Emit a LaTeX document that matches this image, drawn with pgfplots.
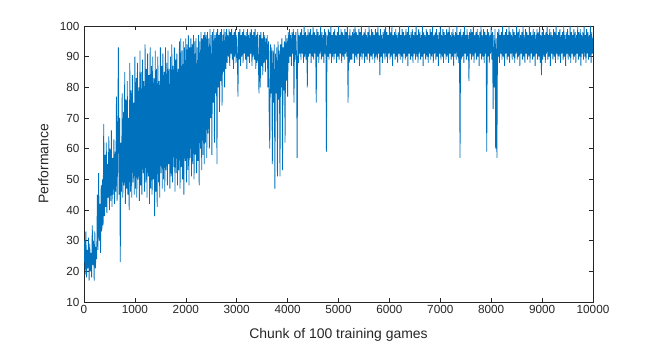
\documentclass[border=0pt]{standalone}
\usepackage{fontspec}
\setmainfont{Liberation Sans}
\usepackage{pgfplots}
\pgfplotsset{compat=1.18}
\definecolor{mblue}{RGB}{0,114,189}
\definecolor{axgray}{RGB}{38,38,38}
\begin{document}
\begin{tikzpicture}
\path[use as bounding box] (0,0) rectangle (654bp,345bp);
\begin{axis}[
  at={(84bp,43bp)}, anchor=south west,
  width=509bp, height=276bp, scale only axis,
  xmin=0, xmax=10000, ymin=10, ymax=100,
  xtick={0,1000,...,10000}, ytick={10,20,...,100},
  tick align=inside, major tick length=4.5bp,
  axis line style={axgray, line width=0.6bp},
  every tick/.style={axgray, line width=0.6bp},
  tick label style={font=\fontsize{11.8}{12}\selectfont, text=axgray},
  yticklabel style={xshift=-1bp},
  /pgf/number format/assume math mode=true,
  /pgf/number format/1000 sep={},
  scaled x ticks=false,
  xlabel={Chunk of 100 training games},
  ylabel={Performance},
  label style={font=\fontsize{14}{15}\selectfont, text=axgray},
  xlabel style={at={(axis description cs:0.5,-0.12)}, anchor=center},
  ylabel style={at={(axis description cs:-0.08,0.5)}, anchor=center},
  clip=true,
]
\addplot[mblue, line width=0.8bp, line join=bevel] coordinates {
(0,23)(12.5,30)(25,19)(37.5,33)(50,18)(62.5,27)(75,21)(87.5,31)(100,17)(112.5,29)
(125,20)(137.5,26)(150,18)(162.5,35)(175,22)(187.5,30)(200,17)(212.5,33)(225,21)(237.5,28)
(250,24)(262.5,45)(275,27)(287.5,52)(300,30)(312.5,42)(325,26)(337.5,48)(350,33)(362.5,50)
(375,35)(387.5,68)(400,38)(412.5,58)(425,41)(437.5,62)(450,39)(462.5,55)(475,44)(487.5,64)
(500,40)(512.5,60)(525,43)(537.5,66)(550,41)(562.5,57)(575,45)(587.5,63)(600,42)(612.5,59)
(625,46)(637.5,77)(650,43)(662.5,62)(675,93)(687.5,45)(700,70)(712.5,23)(725,62)(737.5,46)
(750,78)(762.5,44)(775,72)(787.5,48)(800,85)(812.5,42)(825,76)(837.5,47)(850,82)(862.5,45)
(875,70)(887.5,40)(900,88)(912.5,46)(925,79)(937.5,44)(950,84)(962.5,49)(975,75)(987.5,45)
(1000,90)(1012.5,47)(1025,83)(1037.5,44)(1050,88)(1062.5,50)(1075,80)(1087.5,43)(1100,92)(1112.5,48)
(1125,85)(1137.5,45)(1150,89)(1162.5,52)(1175,82)(1187.5,46)(1200,94)(1212.5,49)(1225,86)(1237.5,44)
(1250,91)(1262.5,51)(1275,84)(1287.5,42)(1300,93)(1312.5,47)(1325,87)(1337.5,45)(1350,90)(1362.5,50)
(1375,83)(1387.5,38)(1400,92)(1412.5,46)(1425,86)(1437.5,41)(1450,90)(1462.5,49)(1475,82)(1487.5,44)
(1500,93)(1512.5,52)(1525,87)(1537.5,47)(1550,91)(1562.5,50)(1575,85)(1587.5,46)(1600,93)(1612.5,53)
(1625,88)(1637.5,48)(1650,92)(1662.5,55)(1675,86)(1687.5,47)(1700,90)(1712.5,51)(1725,94)(1737.5,49)
(1750,87)(1762.5,54)(1775,93)(1787.5,46)(1800,89)(1812.5,52)(1825,91)(1837.5,48)(1850,86)(1862.5,53)
(1875,95)(1887.5,47)(1900,96)(1912.5,54)(1925,92)(1937.5,50)(1950,95)(1962.5,45)(1975,93)(1987.5,56)
(2000,96)(2012.5,49)(2025,94)(2037.5,53)(2050,97)(2062.5,48)(2075,93)(2087.5,57)(2100,96)(2112.5,51)
(2125,94)(2137.5,55)(2150,97)(2162.5,50)(2175,95)(2187.5,58)(2200,96)(2212.5,52)(2225,93)(2237.5,56)
(2250,97)(2262.5,48)(2275,95)(2287.5,60)(2300,98)(2312.5,53)(2325,96)(2337.5,58)(2350,97)(2362.5,55)
(2375,98)(2387.5,62)(2400,97)(2412.5,57)(2425,98)(2437.5,65)(2450,96)(2462.5,60)(2475,99)(2487.5,70)
(2500,97)(2512.5,58)(2525,98)(2537.5,75)(2550,99)(2562.5,62)(2575,97)(2587.5,78)(2600,98)(2612.5,55)
(2625,99)(2637.5,80)(2650,97)(2662.5,72)(2675,98)(2687.5,82)(2700,99)(2712.5,74)(2725,97)(2737.5,85)
(2750,99)(2762.5,80)(2775,98)(2787.5,86)(2800,99)(2812.5,88)(2825,97)(2837.5,90)(2850,99)(2862.5,87)
(2875,98)(2887.5,91)(2900,99)(2912.5,89)(2925,97)(2937.5,86)(2950,98)(2962.5,90)(2975,99)(2987.5,88)
(3000,97)(3012.5,91)(3025,77)(3037.5,98)(3050,89)(3062.5,99)(3075,87)(3087.5,97)(3100,90)(3112.5,98)
(3125,88)(3137.5,99)(3150,91)(3162.5,97)(3175,89)(3187.5,98)(3200,86)(3212.5,99)(3225,90)(3237.5,97)
(3250,88)(3262.5,98)(3275,91)(3287.5,99)(3300,87)(3312.5,97)(3325,90)(3337.5,98)(3350,89)(3362.5,99)
(3375,86)(3387.5,97)(3400,88)(3412.5,98)(3425,90)(3437.5,78)(3450,97)(3462.5,80)(3475,98)(3487.5,87)
(3500,96)(3512.5,84)(3525,98)(3537.5,88)(3550,97)(3562.5,85)(3575,96)(3587.5,89)(3600,97)(3612.5,80)
(3625,95)(3637.5,72)(3650,60)(3662.5,94)(3675,78)(3687.5,93)(3700,55)(3712.5,92)(3725,75)(3737.5,94)
(3750,47)(3762.5,91)(3775,78)(3787.5,93)(3800,51)(3812.5,95)(3825,76)(3837.5,92)(3850,51)(3862.5,94)
(3875,80)(3887.5,96)(3900,53)(3912.5,93)(3925,79)(3937.5,95)(3950,62)(3962.5,97)(3975,82)(3987.5,96)
(4000,77)(4012.5,98)(4025,88)(4037.5,99)(4050,90)(4062.5,97)(4075,87)(4087.5,98)(4100,91)(4112.5,99)
(4125,75)(4137.5,97)(4150,89)(4162.5,98)(4175,90)(4187.5,57)(4200,99)(4212.5,88)(4225,97)(4237.5,91)
(4250,98)(4262.5,89)(4275,99)(4287.5,91)(4300,97)(4312.5,88)(4325,100)(4337.5,90)
(4350,98)(4362.5,89)(4375,97)(4387.5,80)(4400,99)(4412.5,90)(4425,98)(4437.5,91)
(4450,99)(4462.5,88)(4475,97)(4487.5,90)(4500,100)(4512.5,89)(4525,98)(4537.5,91)
(4550,97)(4562.5,75)(4575,99)(4587.5,90)(4600,98)(4612.5,88)(4625,97)(4637.5,91)
(4650,100)(4662.5,89)(4675,98)(4687.5,90)(4700,97)(4712.5,88)(4725,99)(4737.5,91)
(4750,98)(4762.5,59)(4775,97)(4787.5,90)(4800,99)(4812.5,89)(4825,98)(4837.5,91)
(4850,100)(4862.5,88)(4875,97)(4887.5,90)(4900,98)(4912.5,89)(4925,99)(4937.5,91)
(4950,97)(4962.5,88)(4975,98)(4987.5,90)(5000,100)(5012.5,89)(5025,97)(5037.5,91)
(5050,99)(5062.5,88)(5075,98)(5087.5,90)(5100,97)(5112.5,89)(5125,99)(5137.5,91)
(5150,98)(5162.5,90)(5175,100)(5187.5,75)(5200,97)(5212.5,88)(5225,99)(5237.5,89)
(5250,97)(5262.5,89)(5275,98)(5287.5,91)(5300,99)(5312.5,88)(5325,100)(5337.5,90)
(5350,98)(5362.5,89)(5375,97)(5387.5,91)(5400,99)(5412.5,87)(5425,98)(5437.5,90)
(5450,100)(5462.5,89)(5475,97)(5487.5,91)(5500,98)(5512.5,88)(5525,99)(5537.5,90)
(5550,97)(5562.5,89)(5575,98)(5587.5,91)(5600,100)(5612.5,88)(5625,97)(5637.5,90)
(5650,99)(5662.5,89)(5675,98)(5687.5,91)(5700,97)(5712.5,88)(5725,99)(5737.5,90)
(5750,98)(5762.5,89)(5775,100)(5787.5,91)(5800,97)(5812.5,84)(5825,99)(5837.5,90)
(5850,97)(5862.5,88)(5875,98)(5887.5,91)(5900,99)(5912.5,89)(5925,100)(5937.5,90)
(5950,98)(5962.5,88)(5975,97)(5987.5,91)(6000,99)(6012.5,89)(6025,98)(6037.5,90)
(6050,100)(6062.5,87)(6075,97)(6087.5,91)(6100,98)(6112.5,89)(6125,99)(6137.5,90)
(6150,97)(6162.5,88)(6175,98)(6187.5,91)(6200,100)(6212.5,89)(6225,97)(6237.5,90)
(6250,99)(6262.5,88)(6275,98)(6287.5,91)(6300,97)(6312.5,89)(6325,99)(6337.5,90)
(6350,98)(6362.5,87)(6375,100)(6387.5,91)(6400,97)(6412.5,89)(6425,98)(6437.5,90)
(6450,99)(6462.5,88)(6475,97)(6487.5,91)(6500,98)(6512.5,89)(6525,100)(6537.5,90)
(6550,97)(6562.5,88)(6575,99)(6587.5,91)(6600,98)(6612.5,89)(6625,97)(6637.5,90)
(6650,100)(6662.5,87)(6675,98)(6687.5,91)(6700,97)(6712.5,89)(6725,99)(6737.5,90)
(6750,98)(6762.5,88)(6775,97)(6787.5,91)(6800,99)(6812.5,89)(6825,98)(6837.5,90)
(6850,100)(6862.5,88)(6875,97)(6887.5,91)(6900,98)(6912.5,89)(6925,99)(6937.5,90)
(6950,97)(6962.5,87)(6975,98)(6987.5,91)(7000,100)(7012.5,89)(7025,97)(7037.5,90)
(7050,99)(7062.5,88)(7075,98)(7087.5,91)(7100,97)(7112.5,89)(7125,99)(7137.5,90)
(7150,98)(7162.5,88)(7175,100)(7187.5,91)(7200,97)(7212.5,89)(7225,98)(7237.5,90)
(7250,99)(7262.5,87)(7275,97)(7287.5,91)(7300,98)(7312.5,89)(7325,100)(7337.5,90)
(7350,97)(7362.5,88)(7375,98)(7387.5,57)(7400,99)(7412.5,89)(7425,97)(7437.5,90)
(7450,98)(7462.5,88)(7475,100)(7487.5,91)(7500,97)(7512.5,89)(7525,99)(7537.5,90)
(7550,97)(7562.5,82)(7575,98)(7587.5,91)(7600,99)(7612.5,89)(7625,98)(7637.5,90)
(7650,100)(7662.5,88)(7675,97)(7687.5,91)(7700,98)(7712.5,89)(7725,99)(7737.5,90)
(7750,97)(7762.5,87)(7775,98)(7787.5,91)(7800,100)(7812.5,89)(7825,97)(7837.5,90)
(7850,99)(7862.5,88)(7875,98)(7887.5,91)(7900,97)(7912.5,59)(7925,99)(7937.5,90)
(7950,98)(7962.5,88)(7975,97)(7987.5,91)(8000,100)(8012.5,89)(8025,98)(8037.5,73)
(8050,97)(8062.5,80)(8075,99)(8087.5,60)(8100,96)(8112.5,57)(8125,98)(8137.5,90)
(8150,99)(8162.5,88)(8175,97)(8187.5,91)(8200,98)(8212.5,89)(8225,100)(8237.5,90)
(8250,97)(8262.5,87)(8275,98)(8287.5,91)(8300,99)(8312.5,89)(8325,97)(8337.5,90)
(8350,100)(8362.5,88)(8375,98)(8387.5,91)(8400,97)(8412.5,89)(8425,99)(8437.5,90)
(8450,98)(8462.5,88)(8475,97)(8487.5,91)(8500,100)(8512.5,89)(8525,98)(8537.5,90)
(8550,99)(8562.5,87)(8575,97)(8587.5,91)(8600,98)(8612.5,89)(8625,100)(8637.5,90)
(8650,97)(8662.5,88)(8675,99)(8687.5,91)(8700,98)(8712.5,89)(8725,97)(8737.5,90)
(8750,100)(8762.5,88)(8775,98)(8787.5,91)(8800,97)(8812.5,89)(8825,99)(8837.5,90)
(8850,98)(8862.5,87)(8875,97)(8887.5,91)(8900,99)(8912.5,89)(8925,98)(8937.5,90)
(8950,100)(8962.5,88)(8975,97)(8987.5,84)(9000,98)(9012.5,89)(9025,99)(9037.5,90)
(9050,97)(9062.5,88)(9075,98)(9087.5,91)(9100,100)(9112.5,89)(9125,97)(9137.5,90)
(9150,99)(9162.5,87)(9175,98)(9187.5,91)(9200,97)(9212.5,89)(9225,99)(9237.5,90)
(9250,98)(9262.5,88)(9275,100)(9287.5,91)(9300,97)(9312.5,89)(9325,98)(9337.5,90)
(9350,99)(9362.5,88)(9375,97)(9387.5,91)(9400,98)(9412.5,89)(9425,100)(9437.5,90)
(9450,97)(9462.5,87)(9475,98)(9487.5,91)(9500,99)(9512.5,89)(9525,97)(9537.5,90)
(9550,100)(9562.5,88)(9575,98)(9587.5,91)(9600,97)(9612.5,89)(9625,99)(9637.5,90)
(9650,98)(9662.5,88)(9675,97)(9687.5,91)(9700,100)(9712.5,89)(9725,98)(9737.5,90)
(9750,99)(9762.5,87)(9775,97)(9787.5,91)(9800,98)(9812.5,89)(9825,100)(9837.5,90)
(9850,97)(9862.5,88)(9875,99)(9887.5,91)(9900,98)(9912.5,89)(9925,97)(9937.5,90)
(9950,100)(9962.5,88)(9975,98)(9987.5,91)(10000,96)
};
\end{axis}
\end{tikzpicture}
\end{document}
